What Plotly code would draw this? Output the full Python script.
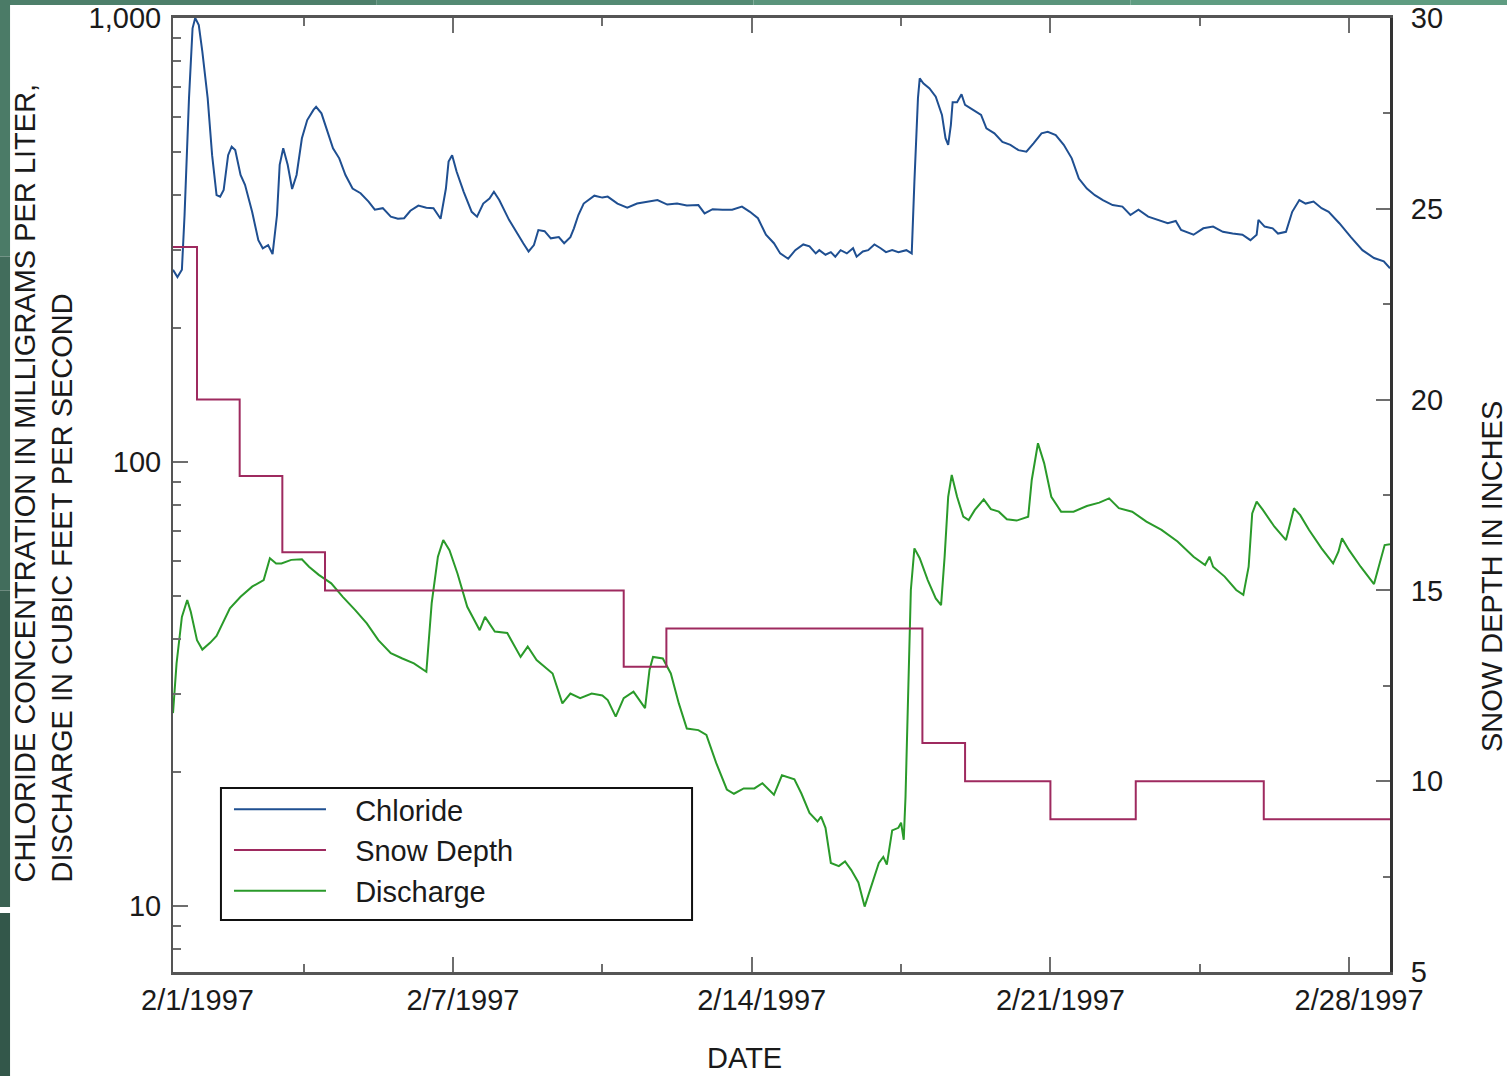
import plotly.graph_objects as go

# ---------------- data ----------------
chloride_time = [
    "1997-01-31 10:30", "1997-01-31 13:00", "1997-01-31 15:30", "1997-01-31 17:00",
    "1997-01-31 19:30", "1997-01-31 21:30", "1997-01-31 23:00", "1997-02-01 01:00",
    "1997-02-01 03:00", "1997-02-01 06:00", "1997-02-01 08:30", "1997-02-01 11:00",
    "1997-02-01 13:00", "1997-02-01 15:00", "1997-02-01 17:30", "1997-02-01 19:30",
    "1997-02-01 21:30", "1997-02-02 00:30", "1997-02-02 03:00", "1997-02-02 07:00",
    "1997-02-02 10:30", "1997-02-02 13:00", "1997-02-02 16:00", "1997-02-02 18:30",
    "1997-02-02 21:00", "1997-02-02 22:30", "1997-02-03 00:30", "1997-02-03 03:00",
    "1997-02-03 05:30", "1997-02-03 08:00", "1997-02-03 11:00", "1997-02-03 14:00",
    "1997-02-03 17:30", "1997-02-03 19:00", "1997-02-03 22:00", "1997-02-04 01:00",
    "1997-02-04 04:30", "1997-02-04 08:00", "1997-02-04 11:30", "1997-02-04 15:30",
    "1997-02-04 20:00", "1997-02-05 00:30", "1997-02-05 04:00", "1997-02-05 08:30",
    "1997-02-05 13:00", "1997-02-05 17:00", "1997-02-05 20:30", "1997-02-06 00:00",
    "1997-02-06 04:30", "1997-02-06 09:00", "1997-02-06 13:00", "1997-02-06 17:00",
    "1997-02-06 20:00", "1997-02-06 21:30", "1997-02-06 23:30", "1997-02-07 02:00",
    "1997-02-07 06:00", "1997-02-07 10:30", "1997-02-07 13:30", "1997-02-07 17:00",
    "1997-02-07 20:30", "1997-02-07 23:00", "1997-02-08 02:00", "1997-02-08 07:30",
    "1997-02-08 12:00", "1997-02-08 15:30", "1997-02-08 18:30", "1997-02-08 21:30",
    "1997-02-09 00:00", "1997-02-09 03:30", "1997-02-09 07:00", "1997-02-09 11:30",
    "1997-02-09 14:30", "1997-02-09 18:00", "1997-02-09 20:00", "1997-02-09 22:30",
    "1997-02-10 01:30", "1997-02-10 07:30", "1997-02-10 12:00", "1997-02-10 15:00",
    "1997-02-10 20:30", "1997-02-11 02:00", "1997-02-11 07:30", "1997-02-11 13:00",
    "1997-02-11 19:00", "1997-02-12 00:30", "1997-02-12 06:00", "1997-02-12 11:30",
    "1997-02-12 18:00", "1997-02-12 21:30", "1997-02-13 02:00", "1997-02-13 07:30",
    "1997-02-13 13:00", "1997-02-13 18:30", "1997-02-13 23:00", "1997-02-14 03:30",
    "1997-02-14 08:00", "1997-02-14 12:30", "1997-02-14 16:00", "1997-02-14 20:30",
    "1997-02-15 00:30", "1997-02-15 05:00", "1997-02-15 08:30", "1997-02-15 12:00",
    "1997-02-15 14:00", "1997-02-15 17:30", "1997-02-15 20:30", "1997-02-15 23:00",
    "1997-02-16 02:00", "1997-02-16 05:30", "1997-02-16 09:00", "1997-02-16 11:00",
    "1997-02-16 14:30", "1997-02-16 17:30", "1997-02-16 21:00", "1997-02-17 00:30",
    "1997-02-17 03:30", "1997-02-17 07:00", "1997-02-17 10:30", "1997-02-17 15:00",
    "1997-02-17 18:00", "1997-02-17 19:30", "1997-02-17 21:30", "1997-02-17 22:30",
    "1997-02-18 00:30", "1997-02-18 04:00", "1997-02-18 07:30", "1997-02-18 11:00",
    "1997-02-18 13:00", "1997-02-18 14:30", "1997-02-18 16:00", "1997-02-18 17:00",
    "1997-02-18 19:30", "1997-02-18 22:00", "1997-02-19 00:00", "1997-02-19 04:30",
    "1997-02-19 09:00", "1997-02-19 12:00", "1997-02-19 16:30", "1997-02-19 21:00",
    "1997-02-20 01:30", "1997-02-20 06:00", "1997-02-20 10:30", "1997-02-20 14:30",
    "1997-02-20 19:00", "1997-02-20 22:30", "1997-02-21 03:00", "1997-02-21 07:30",
    "1997-02-21 12:00", "1997-02-21 16:00", "1997-02-21 20:30", "1997-02-22 01:00",
    "1997-02-22 05:30", "1997-02-22 11:00", "1997-02-22 16:30", "1997-02-22 21:00",
    "1997-02-23 01:30", "1997-02-23 07:00", "1997-02-23 12:30", "1997-02-23 18:00",
    "1997-02-23 22:30", "1997-02-24 01:30", "1997-02-24 08:30", "1997-02-24 14:00",
    "1997-02-24 19:30", "1997-02-25 01:00", "1997-02-25 06:30", "1997-02-25 12:00",
    "1997-02-25 16:30", "1997-02-25 20:00", "1997-02-25 21:00", "1997-02-26 00:30",
    "1997-02-26 05:00", "1997-02-26 08:00", "1997-02-26 12:30", "1997-02-26 16:00",
    "1997-02-26 20:00", "1997-02-26 23:30", "1997-02-27 04:00", "1997-02-27 08:30",
    "1997-02-27 12:30", "1997-02-27 18:30", "1997-02-28 01:00", "1997-02-28 07:30",
    "1997-02-28 14:00", "1997-02-28 19:30", "1997-02-28 23:00",
]
chloride_mg_per_l = [
    271, 261, 271, 360, 660, 948, 1000, 964,
    840, 660, 491, 399, 396, 410, 491, 513,
    504, 443, 421, 366, 316, 303, 308, 294,
    360, 467, 509, 467, 412, 443, 536, 589,
    621, 631, 610, 564, 509, 483, 443, 413,
    403, 386, 370, 373, 357, 353, 354, 368,
    378, 374, 373, 353, 413, 475, 491, 451,
    406, 366, 357, 382, 392, 406, 389, 351,
    327, 311, 298, 308, 333, 331, 319, 321,
    311, 321, 336, 360, 382, 398, 394, 396,
    382, 374, 382, 386, 389, 380, 382, 378,
    379, 363, 371, 370, 370, 376, 366, 354,
    325, 311, 295, 287, 300, 309, 306, 295,
    300, 293, 297, 290, 300, 295, 303, 290,
    298, 300, 309, 303, 297, 300, 297, 300,
    295, 428, 660, 731, 713, 694, 665, 605,
    536, 518, 574, 646, 646, 673, 637, 621,
    605, 564, 550, 526, 518, 504, 500, 522,
    550, 554, 545, 518, 483, 435, 413, 399,
    389, 379, 376, 360, 370, 357, 351, 345,
    349, 333, 325, 336, 339, 330, 327, 325,
    316, 325, 351, 339, 336, 327, 330, 366,
    389, 382, 386, 373, 366, 345, 321, 300,
    288, 283, 273,
]

discharge_time = [
    "1997-01-31 10:30", "1997-01-31 12:30", "1997-01-31 15:30", "1997-01-31 18:30",
    "1997-01-31 20:30", "1997-02-01 00:00", "1997-02-01 03:00", "1997-02-01 07:30",
    "1997-02-01 11:00", "1997-02-01 14:30", "1997-02-01 18:30", "1997-02-02 00:30",
    "1997-02-02 07:00", "1997-02-02 13:30", "1997-02-02 17:00", "1997-02-02 20:30",
    "1997-02-02 23:30", "1997-02-03 05:00", "1997-02-03 11:00", "1997-02-03 15:00",
    "1997-02-03 20:30", "1997-02-04 03:30", "1997-02-04 10:00", "1997-02-04 17:00",
    "1997-02-04 23:30", "1997-02-05 06:00", "1997-02-05 13:00", "1997-02-05 19:30",
    "1997-02-06 02:00", "1997-02-06 09:00", "1997-02-06 12:00", "1997-02-06 15:30",
    "1997-02-06 18:30", "1997-02-06 22:00", "1997-02-07 02:30", "1997-02-07 08:00",
    "1997-02-07 15:00", "1997-02-07 18:00", "1997-02-07 23:30", "1997-02-08 06:30",
    "1997-02-08 14:00", "1997-02-08 18:00", "1997-02-08 23:00", "1997-02-09 08:00",
    "1997-02-09 13:30", "1997-02-09 18:00", "1997-02-09 23:30", "1997-02-10 06:00",
    "1997-02-10 12:00", "1997-02-10 15:00", "1997-02-10 19:30", "1997-02-11 00:00",
    "1997-02-11 05:30", "1997-02-11 12:00", "1997-02-11 14:30", "1997-02-11 16:30",
    "1997-02-11 22:00", "1997-02-12 02:30", "1997-02-12 07:00", "1997-02-12 11:30",
    "1997-02-12 18:00", "1997-02-12 22:30", "1997-02-13 04:00", "1997-02-13 10:00",
    "1997-02-13 14:00", "1997-02-13 19:30", "1997-02-14 01:30", "1997-02-14 06:00",
    "1997-02-14 12:30", "1997-02-14 17:00", "1997-02-15 00:00", "1997-02-15 04:00",
    "1997-02-15 08:30", "1997-02-15 13:00", "1997-02-15 15:00", "1997-02-15 17:30",
    "1997-02-15 20:30", "1997-02-16 01:00", "1997-02-16 04:30", "1997-02-16 08:00",
    "1997-02-16 12:00", "1997-02-16 15:30", "1997-02-16 19:00", "1997-02-16 23:30",
    "1997-02-17 02:00", "1997-02-17 04:00", "1997-02-17 07:00", "1997-02-17 10:30",
    "1997-02-17 12:00", "1997-02-17 13:30", "1997-02-17 14:30", "1997-02-17 16:00",
    "1997-02-17 17:30", "1997-02-17 19:30", "1997-02-17 22:30", "1997-02-18 03:00",
    "1997-02-18 07:30", "1997-02-18 10:30", "1997-02-18 12:30", "1997-02-18 14:30",
    "1997-02-18 16:30", "1997-02-18 19:30", "1997-02-18 23:00", "1997-02-19 02:00",
    "1997-02-19 05:30", "1997-02-19 10:30", "1997-02-19 14:30", "1997-02-19 19:00",
    "1997-02-19 23:30", "1997-02-20 05:00", "1997-02-20 11:30", "1997-02-20 13:30",
    "1997-02-20 17:00", "1997-02-20 20:30", "1997-02-21 00:30", "1997-02-21 06:00",
    "1997-02-21 13:00", "1997-02-21 20:30", "1997-02-22 03:30", "1997-02-22 09:00",
    "1997-02-22 14:30", "1997-02-22 22:00", "1997-02-23 06:00", "1997-02-23 14:30",
    "1997-02-23 23:30", "1997-02-24 08:30", "1997-02-24 15:00", "1997-02-24 17:30",
    "1997-02-24 19:30", "1997-02-25 02:00", "1997-02-25 08:30", "1997-02-25 12:30",
    "1997-02-25 15:30", "1997-02-25 17:30", "1997-02-25 20:00", "1997-02-25 23:30",
    "1997-02-26 06:00", "1997-02-26 12:30", "1997-02-26 14:30", "1997-02-26 17:00",
    "1997-02-26 20:30", "1997-02-27 01:30", "1997-02-27 08:30", "1997-02-27 15:00",
    "1997-02-27 18:00", "1997-02-27 20:00", "1997-02-28 00:00", "1997-02-28 06:30",
    "1997-02-28 14:00", "1997-02-28 17:00", "1997-02-28 20:00", "1997-02-28 23:00",
]
discharge_cfs = [
    27.2, 35.2, 44.8, 48.9, 46.0, 39.7, 37.8, 39.2,
    40.6, 43.3, 46.8, 49.7, 52.4, 54.2, 60.7, 59.1,
    59.1, 60.2, 60.4, 58.1, 55.7, 53.3, 49.7, 46.4,
    43.3, 39.7, 37.1, 36.1, 35.2, 33.7, 48.1, 61.2,
    66.7, 63.3, 56.1, 47.2, 41.8, 44.8, 41.5, 41.2,
    36.4, 38.4, 35.8, 33.4, 28.6, 30.1, 29.4, 30.1,
    29.8, 29.1, 26.7, 29.4, 30.4, 27.9, 34.0, 36.4,
    36.1, 33.4, 28.6, 25.1, 24.9, 24.3, 21.0, 18.3,
    17.9, 18.4, 18.4, 18.9, 17.8, 19.7, 19.3, 17.9,
    16.2, 15.5, 15.9, 15.0, 12.5, 12.3, 12.6, 12.05,
    11.3, 9.97, 11.0, 12.5, 12.9, 12.4, 14.8, 15.0,
    15.4, 14.1, 17.6, 29.4, 51.5, 63.9, 60.7, 54.2,
    49.3, 47.6, 61.2, 83.5, 93.5, 83.5, 75.3, 74.0,
    78.0, 82.4, 78.3, 77.3, 74.3, 73.8, 75.3, 91.1,
    110.2, 99.3, 83.5, 77.3, 77.3, 79.6, 81.0, 82.8,
    78.7, 77.3, 73.4, 70.3, 66.2, 61.2, 58.6, 61.2,
    58.1, 55.2, 51.5, 50.2, 58.1, 76.6, 81.4, 78.0,
    71.5, 66.7, 71.5, 78.7, 75.9, 70.3, 63.9, 59.1,
    62.8, 67.3, 63.3, 58.1, 53.1, 59.1, 65.0, 65.3,
]

# daily snow depth, each value holding until the next day
snow_date = [
    "1997-01-31", "1997-02-01", "1997-02-02", "1997-02-03", "1997-02-04",
    "1997-02-05", "1997-02-06", "1997-02-07", "1997-02-08", "1997-02-09",
    "1997-02-10", "1997-02-11", "1997-02-12", "1997-02-13", "1997-02-14",
    "1997-02-15", "1997-02-16", "1997-02-17", "1997-02-18", "1997-02-19",
    "1997-02-20", "1997-02-21", "1997-02-22", "1997-02-23", "1997-02-24",
    "1997-02-25", "1997-02-26", "1997-02-27", "1997-02-28", "1997-03-01",
]
snow_depth_in = [
    24, 20, 18, 16, 15,
    15, 15, 15, 15, 15,
    15, 13, 14, 14, 14,
    14, 14, 14, 11, 10,
    10, 9, 9, 10, 10,
    10, 9, 9, 9, 9,
]

# axis ticks
date_ticks = ["1997-02-07", "1997-02-14", "1997-02-21", "1997-02-28"]
date_labels = ["2/7/1997", "2/14/1997", "2/21/1997", "2/28/1997"]
first_date, first_label = "1997-02-01", "2/1/1997"
half_week_ticks = ["1997-02-03 12:00", "1997-02-10 12:00",
                   "1997-02-17 12:00", "1997-02-24 12:00"]
left_major = [10, 100, 1000]
left_labels = ["10", "100", "1,000"]
left_minor = [8, 9, 20, 30, 40, 50, 60, 70, 80, 90,
              200, 300, 400, 500, 600, 700, 800, 900]
right_major = [5, 10, 15, 20, 25, 30]
right_minor = [7.5, 12.5, 17.5, 22.5, 27.5]

FONT = "Liberation Sans, Arial, Helvetica, sans-serif"
INK = "#1a1a1a"
TICK = "#6e6e6e"
BLUE = "#1f4f91"
MAGENTA = "#9e2a5f"
GREEN = "#2a9a2a"
GAP = "\u00a0\u00a0\u00a0"   # space between legend line and label

fig = go.Figure()
fig.add_trace(go.Scatter(x=chloride_time, y=chloride_mg_per_l, name=GAP + "Chloride",
                         mode="lines", line=dict(color=BLUE, width=2)))
fig.add_trace(go.Scatter(x=snow_date, y=snow_depth_in, name=GAP + "Snow Depth",
                         mode="lines", line=dict(color=MAGENTA, width=2, shape="hv"),
                         yaxis="y2"))
fig.add_trace(go.Scatter(x=discharge_time, y=discharge_cfs, name=GAP + "Discharge",
                         mode="lines", line=dict(color=GREEN, width=2)))

tickfont = dict(family=FONT, size=29, color=INK)

fig.update_layout(
    width=1507, height=1076,
    margin=dict(l=173, r=117, t=18, b=104, pad=0, autoexpand=False),
    paper_bgcolor="white", plot_bgcolor="white",
    font=dict(family=FONT, size=29, color=INK),
    showlegend=True,
    legend=dict(x=0.0460, y=0.1971, xanchor="left", yanchor="top",
                bgcolor="rgba(0,0,0,0)", borderwidth=0,
                font=dict(family=FONT, size=29, color=INK),
                itemwidth=92, tracegroupgap=0),
    xaxis=dict(
        type="date", range=["1997-01-31 10:30", "1997-02-28 23:00"],
        tickmode="array", tickvals=date_ticks, ticktext=date_labels,
        ticks="inside", ticklen=15, tickwidth=1.5, tickcolor=TICK,
        showline=True, linecolor="#555555", linewidth=3, mirror="ticks",
        showgrid=False, zeroline=False, tickfont=tickfont, automargin=False,
        ticklabelstandoff=0, ticklabelshift=10,
        minor=dict(tickmode="array", tickvals=half_week_ticks, ticks="inside",
                   ticklen=8, tickwidth=1.5, tickcolor=TICK, showgrid=False),
    ),
    yaxis=dict(
        type="log", range=[0.8514, 3.0],
        tickmode="array", tickvals=left_major, ticktext=left_labels,
        ticks="inside", ticklen=15, tickwidth=1.5, tickcolor=TICK,
        showline=True, linecolor="#555555", linewidth=2,
        showgrid=False, zeroline=False, tickfont=tickfont, automargin=False,
        ticklabelstandoff=4,
        minor=dict(tickmode="array", tickvals=left_minor, ticks="inside",
                   ticklen=8, tickwidth=1.5, tickcolor=TICK, showgrid=False),
    ),
    yaxis2=dict(
        overlaying="y", side="right", range=[5, 30],
        tickmode="array", tickvals=right_major,
        ticks="inside", ticklen=14, tickwidth=1.5, tickcolor=TICK,
        showline=True, linecolor="#333333", linewidth=3,
        showgrid=False, zeroline=False, tickfont=tickfont, automargin=False,
        ticklabelstandoff=12,
        minor=dict(tickmode="array", tickvals=right_minor, ticks="inside",
                   ticklen=7, tickwidth=1.5, tickcolor=TICK, showgrid=False),
    ),
)

# first date label sits at the left edge without a tick mark
fig.add_annotation(x=first_date, xref="x", y=-0.0294, yref="paper",
                   text=first_label, showarrow=False, xanchor="center",
                   yanchor="middle", font=tickfont)

# axis titles
title_font = dict(family=FONT, size=29, color=INK)
fig.add_annotation(x=-0.1216, y=0.0912, xref="paper", yref="paper",
                   text="CHLORIDE CONCENTRATION IN MILLIGRAMS PER LITER,",
                   textangle=-90, showarrow=False, xanchor="center",
                   yanchor="bottom", font=title_font)
fig.add_annotation(x=-0.0912, y=0.0912, xref="paper", yref="paper",
                   text="DISCHARGE IN CUBIC FEET PER SECOND",
                   textangle=-90, showarrow=False, xanchor="center",
                   yanchor="bottom", font=title_font)
fig.add_annotation(x=1.0838, y=0.4151, xref="paper", yref="paper",
                   text="SNOW DEPTH IN INCHES", textangle=-90, showarrow=False,
                   xanchor="center", yanchor="middle", font=title_font)
fig.add_annotation(x=0.470, y=-0.0905, xref="paper", yref="paper",
                   text="DATE", showarrow=False, xanchor="center",
                   yanchor="middle", font=title_font)

# legend frame
fig.add_shape(type="rect", xref="paper", yref="paper",
              x0=0.0394, x1=0.4265, y0=0.0545, y1=0.1929,
              line=dict(color="#111111", width=2), fillcolor="white",
              layer="above")

# slide border strips
top_colors = ["#4d7f6a", "#548a73", "#5a947b", "#5f9c81"]
for i, c in enumerate(top_colors):
    fig.add_shape(type="rect", xref="paper", yref="paper",
                  x0=-0.1422 + i * 0.3096, x1=-0.1422 + (i + 1) * 0.3096,
                  y0=1.0136, y1=1.0189, line=dict(width=0), fillcolor=c,
                  layer="below")
left_bands = [(1.0189, 0.75, "#4b7b67"), (0.75, 0.40, "#426d5c"),
              (0.40, 0.0681, "#3a6152"), (0.0618, -0.1090, "#33574a")]
for y1, y0, c in left_bands:
    fig.add_shape(type="rect", xref="paper", yref="paper",
                  x0=-0.1422, x1=-0.1339, y0=y0, y1=y1,
                  line=dict(width=0), fillcolor=c, layer="below")

fig.write_html("out.html")
